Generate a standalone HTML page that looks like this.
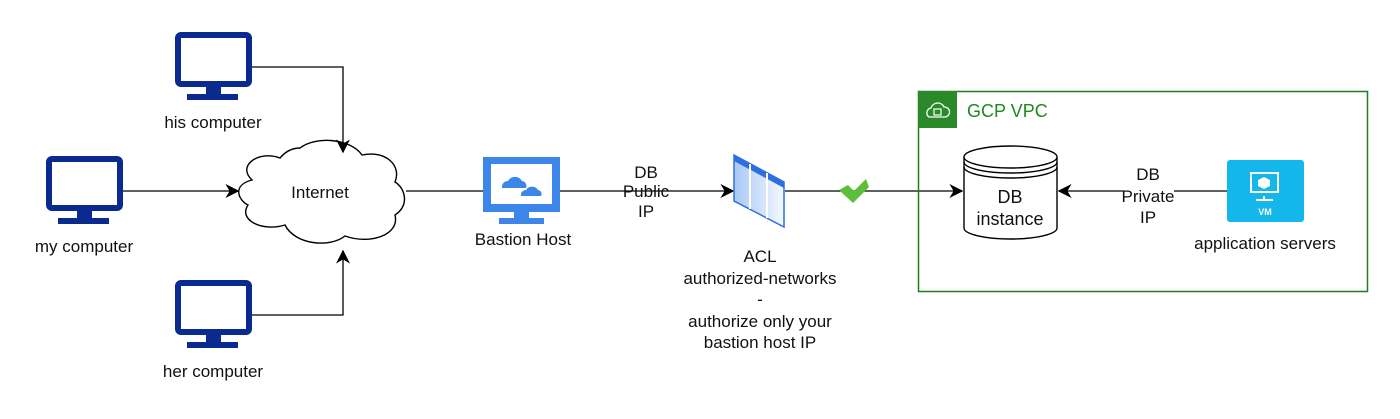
<!DOCTYPE html>
<html><head><meta charset="utf-8"><style>
body{margin:0;background:#fff;width:1400px;height:414px;overflow:hidden}
text{font-family:"Liberation Sans",sans-serif;font-size:17px;fill:#111}
</style></head><body>
<svg width="1400" height="414" viewBox="0 0 1400 414" xmlns="http://www.w3.org/2000/svg">
<defs>
<marker id="a" viewBox="0 0 10 10" refX="9" refY="5" markerWidth="14" markerHeight="14" orient="auto" markerUnits="userSpaceOnUse"><path d="M0,0 L10,5 L0,10 L3,5 z" fill="#000"/></marker>
<linearGradient id="g" x1="0" x2="1"><stop offset="0" stop-color="#a9c8f5"/><stop offset="1" stop-color="#f4f8ff"/></linearGradient>
<g id="pc"><rect x="3" y="3" width="71" height="49" rx="3" fill="#fff" stroke="#0b2a8f" stroke-width="6"/><rect x="31" y="54" width="15" height="10" fill="#0b2a8f"/><rect x="12" y="62" width="51" height="6" fill="#0b2a8f"/></g>
</defs>
<!-- cloud -->
<path d="M280,158 C260,150 236,165 252,180 C232,185 238,200 248,205 C238,220 262,232 285,225 C295,245 330,248 345,236 C370,245 400,235 395,215 C410,205 405,188 395,182 C402,165 385,150 362,155 C350,138 315,136 300,148 C292,148 285,152 280,158 Z" fill="#fff" stroke="#000" stroke-width="1.4"/>
<text x="320" y="198" text-anchor="middle">Internet</text>
<!-- computers -->
<use href="#pc" x="175" y="32"/>
<use href="#pc" x="46" y="156"/>
<use href="#pc" x="175" y="280"/>
<text x="213" y="128" text-anchor="middle">his computer</text>
<text x="84" y="252" text-anchor="middle">my computer</text>
<text x="213" y="377" text-anchor="middle">her computer</text>
<path d="M252,67 H343 V152" fill="none" stroke="#000" stroke-width="1.3" marker-end="url(#a)"/>
<path d="M123,191 H238" fill="none" stroke="#000" stroke-width="1.3" marker-end="url(#a)"/>
<path d="M252,315 H343 V251" fill="none" stroke="#000" stroke-width="1.3" marker-end="url(#a)"/>
<path d="M406,191 H483" stroke="#000" stroke-width="1.3"/>
<!-- bastion -->
<rect x="483" y="157" width="77" height="55" fill="#3b86e8"/>
<rect x="491" y="164" width="61" height="40" fill="#fff"/>
<rect x="514" y="212" width="15" height="6" fill="#3b86e8"/>
<rect x="499" y="218" width="45" height="6" fill="#3b86e8"/>
<path d="M502,188 a6,6 0 0 1 6,-7 a8,8 0 0 1 14,0 a5,5 0 0 1 4,7 z" fill="#3b86e8"/>
<path d="M521,196 a5,5 0 0 1 5,-6 a7,7 0 0 1 12,0 a4,4 0 0 1 3,6 z" fill="#3b86e8"/>
<text x="523" y="245" text-anchor="middle">Bastion Host</text>
<path d="M560,191 H733" stroke="#000" stroke-width="1.3" marker-end="url(#a)"/>
<text x="646" y="178" text-anchor="middle">DB</text>
<text x="646" y="197" text-anchor="middle">Public</text>
<text x="646" y="217" text-anchor="middle">IP</text>
<!-- ACL -->
<path d="M734,155 L784,182 L784,227 L734,201 Z" fill="url(#g)" stroke="#2d6fe0" stroke-width="1.5"/>
<path d="M734,155 L784,182 L784,188 L734,161 Z" fill="#2d6fe0"/>
<path d="M750,164 V209 M767,173 V218" stroke="#fff" stroke-width="2"/>
<text x="760" y="262" text-anchor="middle">ACL</text>
<text x="760" y="284" text-anchor="middle">authorized-networks</text>
<text x="760" y="305" text-anchor="middle">-</text>
<text x="760" y="327" text-anchor="middle">authorize only your</text>
<text x="760" y="348" text-anchor="middle">bastion host IP</text>
<path d="M785,191 H962" stroke="#000" stroke-width="1.3" marker-end="url(#a)"/>
<path d="M839,190 L848,185 L854,191 L866,179 L869,187 L853,203 Z" fill="#5cbf3a"/>
<!-- VPC -->
<rect x="918.5" y="91.5" width="449" height="200" fill="none" stroke="#1e7d1e" stroke-width="1.5"/>
<rect x="918" y="91" width="39" height="37" fill="#2a8a2a"/>
<path d="M929,117 a5,5 0 0 1 2,-9 a7,7 0 0 1 13,-1 a5,5 0 0 1 1,10 z" fill="none" stroke="#fff" stroke-width="1.3"/>
<rect x="934" y="109" width="7" height="6" fill="none" stroke="#fff" stroke-width="1.2"/>
<text x="967" y="117" style="fill:#1e8a1e;font-size:18px">GCP VPC</text>
<!-- DB cylinder -->
<path d="M964,157 V228 A46.5,11 0 0 0 1057,228 V157" fill="#fff" stroke="#000" stroke-width="1.4"/>
<ellipse cx="1010.5" cy="157" rx="46.5" ry="11" fill="#fff" stroke="#000" stroke-width="1.4"/>
<path d="M964,162 A46.5,11 0 0 0 1057,162 M964,167 A46.5,11 0 0 0 1057,167" fill="none" stroke="#000" stroke-width="1.4"/>
<text x="1010" y="203" text-anchor="middle" style="font-size:18px">DB</text>
<text x="1010" y="225" text-anchor="middle" style="font-size:18px">instance</text>
<path d="M1227,191 H1059" stroke="#000" stroke-width="1.3" marker-end="url(#a)"/>
<rect x="1124" y="165" width="50" height="60" fill="#fff"/>
<text x="1148" y="180" text-anchor="middle">DB</text>
<text x="1148" y="202" text-anchor="middle">Private</text>
<text x="1148" y="223" text-anchor="middle">IP</text>
<!-- VM -->
<rect x="1227" y="160" width="77" height="62" rx="3" fill="#14b7ea"/>
<rect x="1251" y="173" width="27" height="19" fill="none" stroke="#fff" stroke-width="2"/>
<path d="M1264,196 V199 M1256,200 H1273" stroke="#fff" stroke-width="2"/>
<path d="M1264,177 L1270,180 L1270,186 L1264,189 L1258,186 L1258,180 Z" fill="#fff"/>
<text x="1265" y="215" text-anchor="middle" style="font-size:9px;fill:#fff;font-weight:bold">VM</text>
<text x="1265" y="249" text-anchor="middle">application servers</text>
</svg>
</body></html>
